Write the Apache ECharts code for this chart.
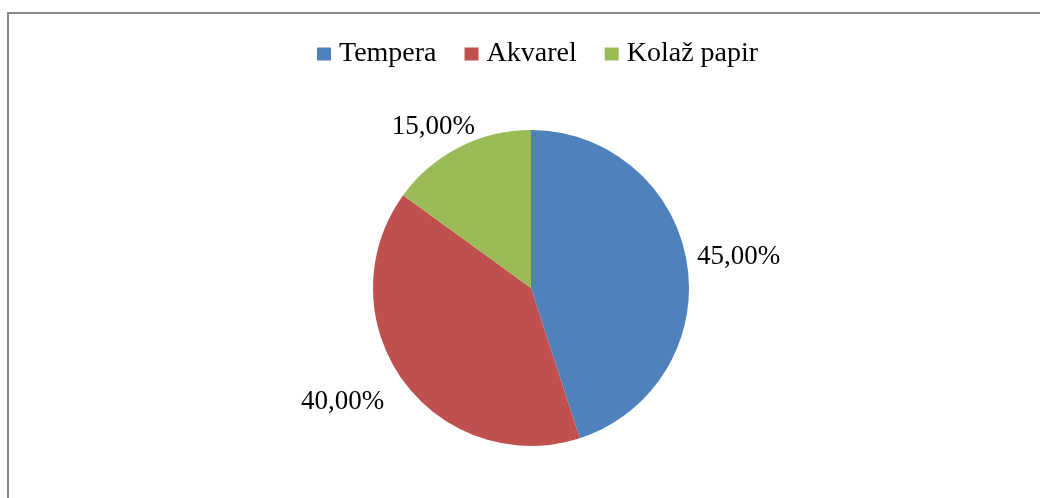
<!DOCTYPE html>
<html>
<head>
<meta charset="utf-8">
<script src="https://cdn.jsdelivr.net/npm/echarts@6/dist/echarts.min.js"></script>
<style>
  html, body { margin: 0; padding: 0; background: #fff; }
  #wrap { position: relative; width: 1040px; height: 498px; overflow: hidden; }
  #frame { position: absolute; left: 7px; top: 12px; width: 1100px; height: 600px;
           border-left: 2px solid #888; border-top: 2px solid #888; }
  #chart { position: absolute; left: 0; top: 0; width: 1040px; height: 498px; }
</style>
</head>
<body>
<div id="wrap">
  <div id="frame"></div>
  <div id="chart"></div>
</div>
<script>
const categories = ['Tempera', 'Akvarel', 'Kolaž papir'];
const values = [45, 40, 15];
const colors = ['#4F81BD', '#C0504D', '#9BBB59'];

// label nudges, Excel "best fit" style
const labelShift = [[-5, -6], [-5, 18], [28, -16]];

const chartDom = document.getElementById('chart');
const myChart = echarts.init(chartDom);

const option = {
  animation: false,
  color: colors,
  legend: {
    left: 317,
    top: 40,
    padding: 0,
    itemWidth: 14,
    itemHeight: 13,
    itemGap: 28,
    icon: 'rect',
    textStyle: {
      fontFamily: 'Liberation Serif',
      fontSize: 28,
      color: '#000',
      padding: [0, 0, 0, 3]
    },
    data: categories
  },
  series: [
    {
      type: 'pie',
      center: [531, 288],
      radius: 158,
      startAngle: 90,
      clockwise: true,
      label: {
        show: true,
        position: 'outside',
        fontFamily: 'Liberation Serif',
        fontSize: 27,
        color: '#000',
        formatter: (p) => p.value.toFixed(2).replace('.', ',') + '%'
      },
      labelLine: { show: false, length: 5, length2: 5 },
      labelLayout: (p) => ({ dx: labelShift[p.dataIndex][0], dy: labelShift[p.dataIndex][1] }),
      itemStyle: { borderWidth: 0 },
      emphasis: { disabled: true },
      data: categories.map((c, i) => ({ name: c, value: values[i] }))
    }
  ]
};

option && myChart.setOption(option);
</script>
</body>
</html>
